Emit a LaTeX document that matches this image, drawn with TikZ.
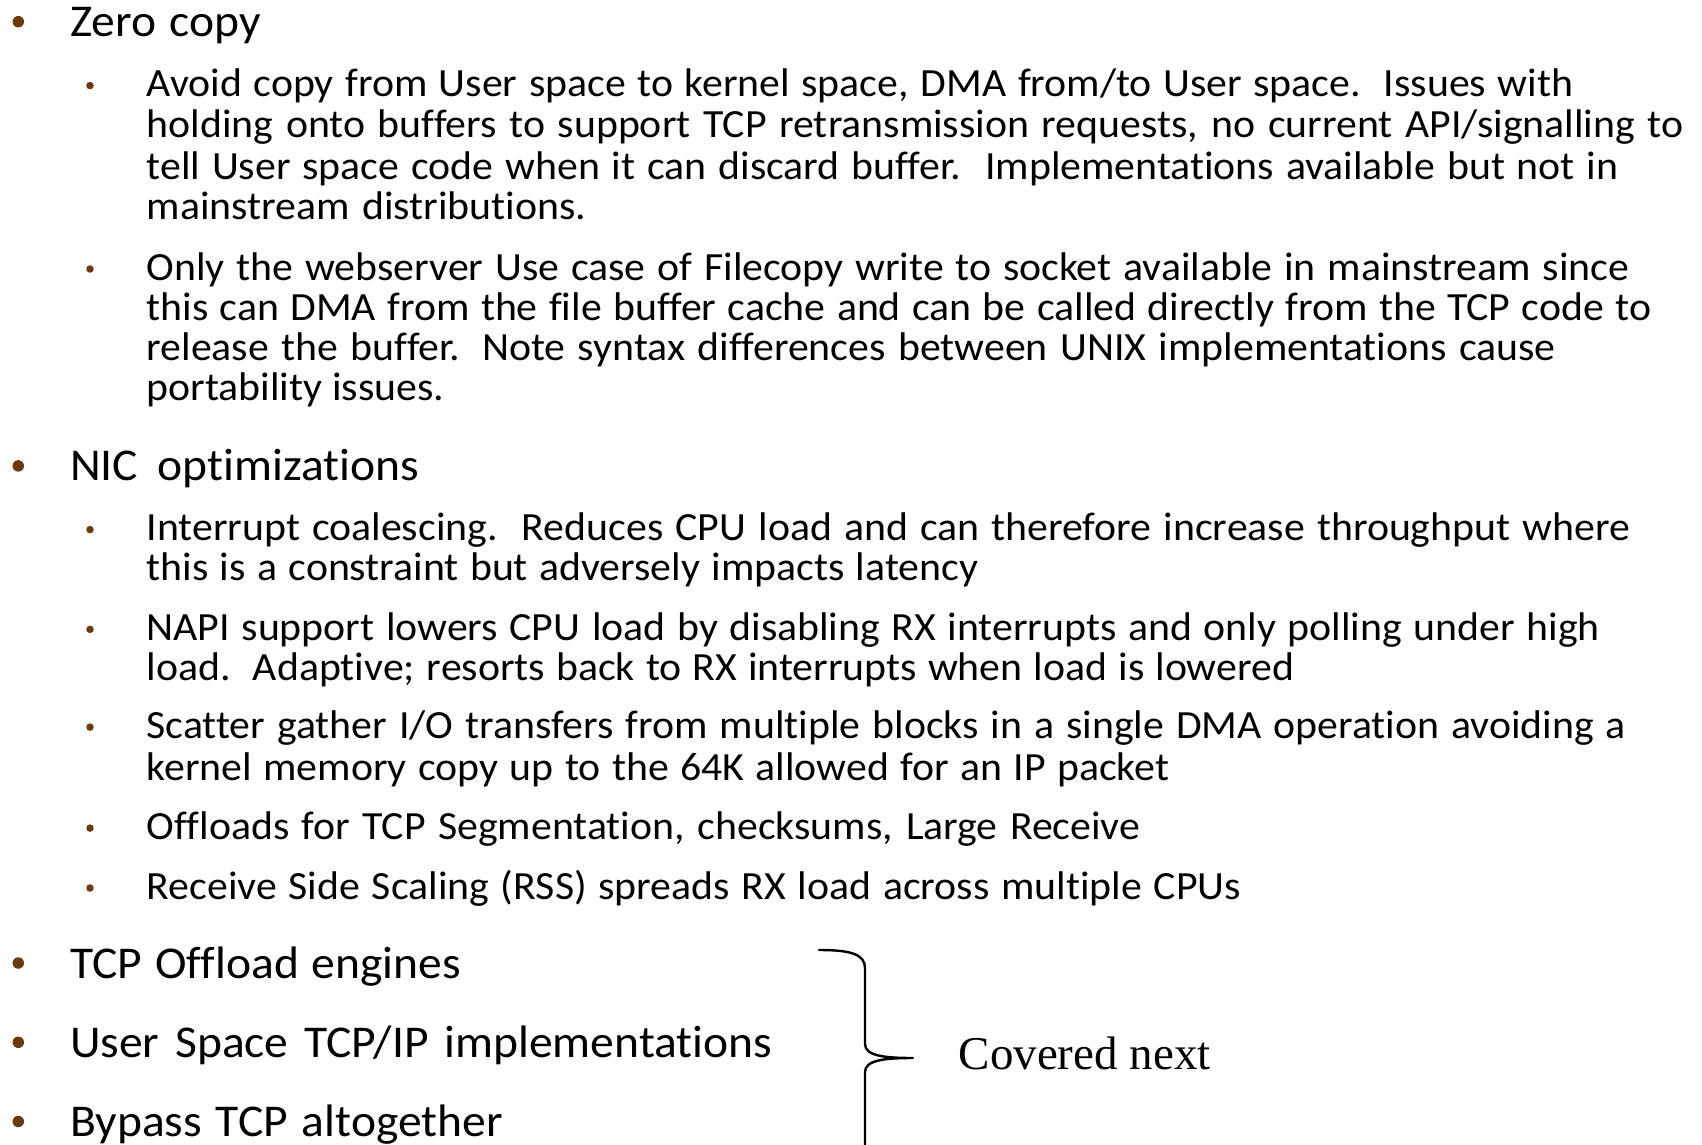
\documentclass[tikz,border=0pt]{standalone}
\usepackage{fontspec}
\setmainfont{Carlito}[FakeStretch=1.045, Ligatures={NoCommon,NoRare,NoContextual}, RawFeature={-clig;-dlig;-calt}]
\newfontfamily\bracefont{Liberation Serif}
\definecolor{bulletbrown}{RGB}{107,58,14}
\begin{document}
\begin{tikzpicture}[x=1pt,y=-1pt,
  mainline/.style={anchor=base west, inner sep=0pt, font=\fontsize{45.5}{50}\selectfont},
  subline/.style={anchor=base west, inner sep=0pt, font=\fontsize{40}{44}\selectfont},
  mainbul/.style={circle, fill=bulletbrown, inner sep=0pt, minimum size=11.5pt},
  subbul/.style={circle, fill=bulletbrown, inner sep=0pt, minimum size=7.5pt},
  bracepath/.style={line width=2.4pt, line cap=round, line join=round}]
\useasboundingbox (0,0) rectangle (1702,1145);
\fill[white] (0,0) rectangle (1702,1145);
% main bullets
\node[mainbul] (b1) at (18.3,21.7) {};
\node[mainbul] (b2) at (18.3,465.9) {};
\node[mainbul] (b3) at (18.3,963) {};
\node[mainbul] (b4) at (18.3,1042.3) {};
\node[mainbul] (b5) at (18.3,1121.5) {};
% sub bullets
\node[subbul] (s1) at (90,85.6) {};
\node[subbul] (s2) at (90,269) {};
\node[subbul] (s3) at (90,529.6) {};
\node[subbul] (s4) at (90,629.4) {};
\node[subbul] (s5) at (90,727.1) {};
\node[subbul] (s6) at (90,828.1) {};
\node[subbul] (s7) at (90,888) {};
% text lines
\node[mainline] (t1) at (70,36.7) {\makebox[190.5pt][s]{Zero copy}};
\node[subline] (t2) at (146.5,96.6) {\makebox[1426.5pt][s]{Avoid copy from User space to kernel space, DMA from/to User space.\ \ Issues with}};
\node[subline] (t3) at (146.5,137.9) {\makebox[1537pt][s]{holding onto buffers to support TCP retransmission requests, no current API/signalling to}};
\node[subline] (t4) at (146.5,179.1) {\makebox[1472pt][s]{tell User space code when it can discard buffer.\ \ Implementations available but not in}};
\node[subline] (t5) at (146.5,219.3) {\makebox[439.5pt][s]{mainstream distributions.}};
\node[subline] (t6) at (146.5,280) {\makebox[1482.5pt][s]{Only the webserver Use case of Filecopy write to socket available in mainstream since}};
\node[subline] (t7) at (146.5,320.2) {\makebox[1504.5pt][s]{this can DMA from the file buffer cache and can be called directly from the TCP code to}};
\node[subline] (t8) at (146.5,360.4) {\makebox[1409pt][s]{release the buffer. Note syntax differences between UNIX implementations cause}};
\node[subline] (t9) at (146.5,400.5) {\makebox[297.5pt][s]{portability issues.}};
\node[mainline] (t10) at (70,480.9) {\makebox[349pt][s]{NIC optimizations}};
\node[subline] (t11) at (146.5,540.6) {\makebox[1483.5pt][s]{Interrupt coalescing.\ \ Reduces CPU load and can therefore increase throughput where}};
\node[subline] (t12) at (146.5,580.7) {\makebox[831.5pt][s]{this is a constraint but adversely impacts latency}};
\node[subline] (t13) at (146.5,640.4) {\makebox[1453.5pt][s]{NAPI support lowers CPU load by disabling RX interrupts and only polling under high}};
\node[subline] (t14) at (146.5,680.6) {\makebox[1147.5pt][s]{load.\ \ Adaptive; resorts back to RX interrupts when load is lowered}};
\node[subline] (t15) at (146.5,738.1) {\makebox[1479.5pt][s]{Scatter gather I/O transfers from multiple blocks in a single DMA operation avoiding a}};
\node[subline] (t16) at (146.5,780.5) {\makebox[1022.5pt][s]{kernel memory copy up to the 64K allowed for an IP packet}};
\node[subline] (t17) at (146.5,839.1) {\makebox[993.5pt][s]{Offloads for TCP Segmentation, checksums, Large Receive}};
\node[subline] (t18) at (146.5,899) {\makebox[1094.5pt][s]{Receive Side Scaling (RSS) spreads RX load across multiple CPUs}};
\node[mainline] (t19) at (70,978) {\makebox[391pt][s]{TCP Offload engines}};
\node[mainline] (t20) at (70,1057.3) {\makebox[702pt][s]{User Space TCP/IP implementations}};
\node[mainline] (t21) at (70,1136.5) {\makebox[432.6pt][s]{Bypass TCP altogether}};
% brace
\draw[bracepath] (819,950) .. controls (850,950) and (865,954) .. (865,968)
  -- (865,1044) .. controls (865,1056) and (885,1058) .. (913,1058)
  .. controls (885,1058) and (865,1060) .. (865,1072) -- (865,1146);
\node[anchor=base west, inner sep=0pt, font=\bracefont\fontsize{47}{52}\selectfont] (cn) at (958.5,1069) {Covered next};
\end{tikzpicture}
\end{document}
